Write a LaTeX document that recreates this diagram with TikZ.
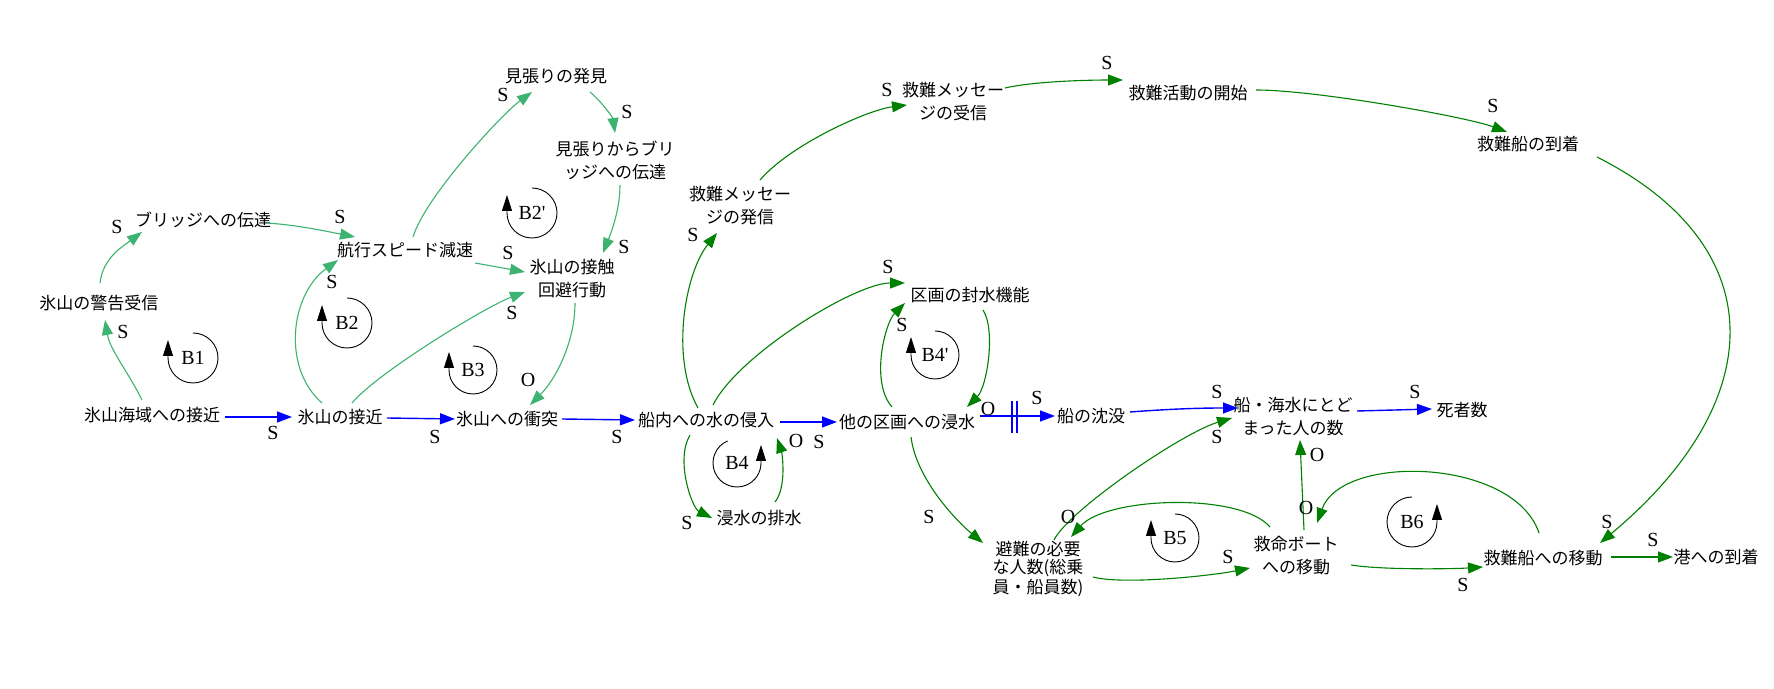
\documentclass[tikz,border=0pt]{standalone}
\usepackage{fontspec}
\setmainfont{Noto Sans CJK JP}
\newfontfamily\polfont{Liberation Serif}
\usetikzlibrary{arrows.meta,calc}
\definecolor{lgreen}{RGB}{60,179,113}
\definecolor{dgreen}{RGB}{0,128,0}
\definecolor{fblue}{RGB}{0,0,255}

\begin{document}
\begin{tikzpicture}[x=0.5pt,y=-0.5pt,>={Triangle[length=7.5pt,width=5.5pt]}]
  \tikzstyle{var}=[font=\fontsize{8.5}{11.5}\selectfont,align=center,inner sep=0pt]
  \tikzstyle{pol}=[font=\polfont\fontsize{10}{10}\selectfont,inner sep=0pt]
  \tikzstyle{linkl}=[->,lgreen,line width=0.55pt]
  \tikzstyle{linkd}=[->,dgreen,line width=0.55pt]
  \tikzstyle{flow}=[->,fblue,line width=0.7pt]
  \tikzstyle{loopm}=[-{Triangle[length=8pt,width=5pt]},black,line width=0.45pt]
  \path[use as bounding box,fill=white] (0,0) rectangle (1774,689);

  \node[var] (near) at (152,415) {氷山海域への接近};
  \node[var] (warn) at (99,303) {氷山の警告受信};
  \node[var] (bridge) at (203,220) {ブリッジへの伝達};
  \node[var] (speed) at (405,250) {航行スピード減速};
  \node[var] (look) at (556,76) {見張りの発見};
  \node[var] (lookbr) at (615,160) {見張りからブリ\\ッジへの伝達};
  \node[var] (avoid) at (572,279) {氷山の接触\\回避行動};
  \node[var] (berg) at (340,417) {氷山の接近};
  \node[var] (hit) at (507,419) {氷山への衝突};
  \node[var] (inflow) at (706,420) {船内への水の侵入};
  \node[var] (spread) at (907,422) {他の区画への浸水};
  \node[var] (sink) at (1091,416) {船の沈没};
  \node[var] (remain) at (1293,417) {船・海水にとど\\まった人の数};
  \node[var] (dead) at (1462,410) {死者数};
  \node[var] (sos) at (740,206) {救難メッセー\\ジの発信};
  \node[var] (sosrx) at (953,102) {救難メッセー\\ジの受信};
  \node[var] (rescue) at (1188,93) {救難活動の開始};
  \node[var] (arrive) at (1528,144) {救難船の到着};
  \node[var] (seal) at (970,295) {区画の封水機能};
  \node[var] (pump) at (759,518) {浸水の排水};
  \node[var,font=\fontsize{8.5}{7.8}\selectfont] (evac) at (1038,569) {避難の必要\\な人数(総乗\\員・船員数)};
  \node[var] (boat) at (1296,556) {救命ボート\\への移動};
  \node[var] (toship) at (1543,558) {救難船への移動};
  \node[var] (port) at (1716,557) {港への到着};

  \draw[linkl] ($(near)+(-10,-15)$) .. controls +(-15,-30) and +(5,30) .. ($(warn)+(6,17)$);
  \draw[linkl] ($(warn)+(1,-20)$) .. controls +(3,-25) and +(-20,15) .. ($(bridge)+(-61,12)$);
  \draw[linkl] ($(bridge)+(64,3)$) .. controls +(30,2) and +(-30,-6) .. ($(speed)+(-50,-13)$);
  \draw[linkl] ($(berg)+(-18,-14)$) .. controls +(-40,-35) and +(-48,35) .. ($(speed)+(-67,10)$);
  \draw[linkl] ($(berg)+(12,-14)$) .. controls +(25,-30) and +(-40,15) .. ($(avoid)+(-47,13)$);
  \draw[linkl] ($(speed)+(8,-13)$) .. controls +(12,-40) and +(-30,22) .. ($(look)+(-24,16)$);
  \draw[linkl] ($(look)+(34,16)$) .. controls +(12,10) and +(-2,-15) .. ($(lookbr)+(0,-27)$);
  \draw[linkl] ($(lookbr)+(5,25)$) .. controls +(0,25) and +(8,-20) .. ($(avoid)+(31,-26)$);
  \draw[linkl] ($(speed)+(70,13)$) -- ($(avoid)+(-47,-7)$);
  \draw[linkl] ($(avoid)+(3,24)$) .. controls +(0,40) and +(25,-25) .. ($(hit)+(23,-14)$);

  \draw[flow] ($(near)+(73,2)$) -- ($(berg)+(-48,0)$);
  \draw[flow] ($(berg)+(47,1)$) -- ($(hit)+(-52,0)$);
  \draw[flow] ($(hit)+(55,0)$) -- ($(inflow)+(-71,0)$);
  \draw[flow] ($(inflow)+(74,2)$) -- ($(spread)+(-70,0)$);
  \draw[flow] ($(spread)+(73,-6)$) -- coordinate[pos=0.46] (dly) ($(sink)+(-36,0)$);
  \draw[fblue,line width=0.6pt] ($(dly)+(-2.5,-15)$) -- ($(dly)+(-2.5,17)$);
  \draw[fblue,line width=0.6pt] ($(dly)+(2.5,-15)$) -- ($(dly)+(2.5,17)$);
  \draw[flow] ($(sink)+(39,-4)$) .. controls +(40,-3) and +(-40,0) .. ($(remain)+(-55,-9)$);
  \draw[flow] ($(remain)+(64,-6)$) -- ($(dead)+(-30,-1)$);

  \draw[linkd] ($(inflow)+(-8,-12)$) .. controls +(-28,-50) and +(-32,40) .. ($(sos)+(-23,27)$);
  \draw[linkd] ($(sos)+(20,-26)$) .. controls +(30,-35) and +(-40,5) .. ($(sosrx)+(-46,3)$);
  \draw[linkd] ($(sosrx)+(52,-14)$) .. controls +(30,-7) and +(-30,0) .. ($(rescue)+(-65,-13)$);
  \draw[linkd] ($(rescue)+(68,-3)$) .. controls +(60,0) and +(-40,-15) .. ($(arrive)+(-21,-12)$);
  \draw[linkd] ($(arrive)+(69,13)$) .. controls +(178,90) and +(169,-141) .. ($(toship)+(57,-15)$);
  \draw[linkd] ($(inflow)+(7,-15)$) .. controls +(25,-50) and +(-50,0) .. ($(seal)+(-65,-12)$);
  \draw[linkd] ($(spread)+(-15,-15)$) .. controls +(-22,-25) and +(-20,20) .. ($(seal)+(-65,8)$);
  \draw[linkd] ($(seal)+(13,15)$) .. controls +(13,20) and +(20,-20) .. ($(spread)+(60,-15)$);
  \draw[linkd] ($(inflow)+(-16,15)$) .. controls +(-15,25) and +(-20,-10) .. ($(pump)+(-47,0)$);
  \draw[linkd] ($(pump)+(16,-16)$) .. controls +(12,-15) and +(5,15) .. ($(inflow)+(71,18)$);
  \draw[linkd] ($(spread)+(4,15)$) .. controls +(5,40) and +(-30,-25) .. ($(evac)+(-55,-26)$);
  \draw[linkd] ($(evac)+(16,-29)$) .. controls +(15,-30) and +(-50,15) .. ($(remain)+(-61,1)$);
  \draw[linkd] ($(boat)+(-26,-29)$) .. controls +(-30,-35) and +(35,-40) .. ($(evac)+(33,-32)$);
  \draw[linkd] ($(evac)+(55,8)$) .. controls +(30,8) and +(-40,8) .. ($(boat)+(-46,12)$);
  \draw[linkd] ($(boat)+(8,-26)$) -- ($(remain)+(7,23)$);
  \draw[linkd] ($(toship)+(-4,-25)$) .. controls +(-25,-75) and +(25,-70) .. ($(boat)+(21,-33)$);
  \draw[linkd] ($(boat)+(55,9)$) .. controls +(30,5) and +(-30,2) .. ($(toship)+(-60,9)$);
  \draw[linkd] ($(toship)+(68,-1)$) -- ($(port)+(-43,0)$);

  \foreach \x/\y/\t [count=\i] in {117/227/S, 123/332/S, 340/217/S, 332/282/S, 273/433/S,
      435/437/S, 503/95/S, 627/112/S, 508/253/S, 624/247/S, 512/313/S, 528/380/O, 617/437/S,
      693/235/S, 887/90/S, 1107/63/S, 1493/106/S, 888/267/S, 902/325/S, 988/409/O, 1037/398/S,
      687/523/S, 796/441/O, 819/442/S, 929/517/S, 1217/392/S, 1217/437/S, 1415/392/S,
      1317/455/O, 1306/508/O, 1068/517/O, 1228/557/S, 1463/585/S, 1607/522/S, 1653/540/S}
    \node[pol] (p\i) at (\x,\y) {\t};

  \foreach \x/\y/\r/\nm/\lab in {193/358/25/b1/B1, 347/323/25/b2/B2, 532/213/25/b2p/B2', 473/370/24/b3/B3,
      935/355/24/b4p/B4', 1175/538/24/b5/B5} {
    \node[pol] (\nm) at (\x,\y) {\lab};
    \draw[loopm] (\x,\y) ++(-90:\r) arc[start angle=-90,end angle=180,radius=\r] -- ++(0,-18);
  }
  \foreach \x/\y/\r/\s/\nm/\lab in {737/463/24/-113/b4/B4, 1412/522/25/-90/b6/B6} {
    \node[pol] (\nm) at (\x,\y) {\lab};
    \draw[loopm] (\x,\y) ++(\s:\r) arc[start angle=\s,end angle=-360,radius=\r] -- ++(0,-18);
  }
\end{tikzpicture}
\end{document}
